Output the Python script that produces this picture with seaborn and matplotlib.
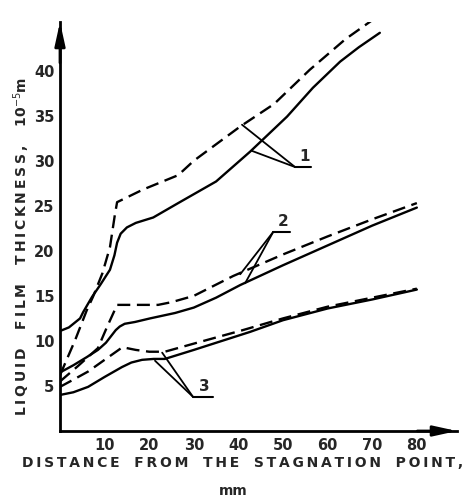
import matplotlib
matplotlib.use("Agg")
import matplotlib.pyplot as plt
import seaborn as sns
import pandas as pd

# ---- data ----
x_solid1 = [0, 2, 4.5, 5.2, 7.2, 9, 11.2, 12.2, 12.8, 13.6, 15, 17, 20.9, 26.5, 35, 42.6, 50.9, 56.7, 62.8, 67, 71.7]
y_solid1 = [11.1, 11.5, 12.5, 13.2, 14.9, 16.2, 17.9, 19.5, 20.9, 21.9, 22.6, 23.1, 23.7, 25.3, 27.7, 31, 34.9, 38.1, 41, 42.6, 44.2]

x_dash1 = [0, 3.4, 6, 7.4, 9.5, 11.2, 12.3, 12.8, 18.6, 26.5, 30, 40.4, 48, 56, 64, 71.7]
y_dash1 = [6.2, 10.1, 13.4, 14.9, 17.5, 20.4, 24, 25.4, 26.8, 28.4, 30, 33.8, 36.3, 40.1, 43.5, 46.2]

x_solid2 = [0, 3, 6, 8.5, 10.3, 12.5, 13.4, 14.5, 16.8, 20.2, 25.8, 30, 35, 40.4, 50, 60, 70, 80]
y_solid2 = [6.5, 7.3, 8.2, 9, 9.8, 11.2, 11.6, 11.9, 12.1, 12.5, 13.1, 13.7, 14.8, 16.2, 18.4, 20.6, 22.8, 24.8]

x_dash2 = [0, 4, 8.5, 10.5, 12.8, 17, 22, 25, 30, 38.8, 50, 60, 70, 80]
y_dash2 = [5.5, 7.2, 9.2, 11.5, 14, 14, 14, 14.3, 15.0, 17.2, 19.6, 21.6, 23.5, 25.3]

x_solid3 = [0, 3, 6.3, 10, 13.9, 16, 18.4, 21, 23.5, 30, 42.6, 50, 60, 70, 80]
y_solid3 = [4.0, 4.3, 4.9, 6.0, 7.1, 7.6, 7.9, 8.0, 8.0, 9.0, 11, 12.3, 13.6, 14.6, 15.7]

x_dash3 = [0, 3, 6.3, 10, 14, 17, 20, 23.5, 30, 41, 50, 60, 70, 80]
y_dash3 = [4.9, 5.7, 6.6, 7.9, 9.3, 9.0, 8.8, 8.8, 9.7, 11.2, 12.5, 13.8, 14.8, 15.8]

x_ticks = [10, 20, 30, 40, 50, 60, 70, 80]
y_ticks = [5, 10, 15, 20, 25, 30, 35, 40]

curve_labels = ["1", "2", "3"]
# leader lines: (label anchor, [targets])
lead_anchor = [(52.7, 29.3), (47.8, 22.1), (29.8, 3.8)]
lead_targets = [[(40.8, 34.0), (43.0, 31.1)],
                [(40.4, 17.4), (41.5, 16.4)],
                [(22.9, 8.7), (21.3, 7.8)]]
lead_underline_end = [56.2, 51.6, 34.2]

xlabel = "DISTANCE FROM THE STAGNATION POINT,"
xunit = "mm"
ylabel_words = ["LIQUID", "FILM", "THICKNESS,"]

# ---- figure ----
sns.set_style("white")
plt.rcParams['font.family'] = ['DejaVu Sans']

fig = plt.figure(figsize=(4.67, 5.0), dpi=100)
ax = fig.add_axes([60 / 467, 69 / 500, 397 / 467, 409 / 500])

dash_pat = (0, (5.5, 2.8))
for xs, ys, ls in [(x_solid1, y_solid1, '-'), (x_dash1, y_dash1, dash_pat),
                   (x_solid2, y_solid2, '-'), (x_dash2, y_dash2, dash_pat),
                   (x_solid3, y_solid3, '-'), (x_dash3, y_dash3, dash_pat)]:
    df = pd.DataFrame({"x": xs, "y": ys})
    sns.lineplot(data=df, x="x", y="y", ax=ax, color='black', lw=1.7,
                 linestyle=ls, sort=False, estimator=None,
                 solid_joinstyle='round', dash_joinstyle='round')

# leaders and numbers
for lab, (ax0, ay0), tg, uend in zip(curve_labels, lead_anchor, lead_targets, lead_underline_end):
    for (tx, ty) in tg:
        ax.plot([tx, ax0], [ty, ay0], color='black', lw=1.3)
    ax.plot([ax0, uend], [ay0, ay0], color='black', lw=1.5)
    ax.text((ax0 + uend) / 2 + 0.3, ay0 + 0.3, lab, ha='center', va='bottom',
            fontsize=11, fontweight='bold')

ax.set_xlim(0, 89)
ax.set_ylim(0, 45.4)
ax.set_xticks(x_ticks)
ax.set_yticks(y_ticks)
ax.set_xticklabels([str(v) for v in x_ticks], fontsize=10.5, fontweight='bold')
ax.set_yticklabels([str(v) for v in y_ticks], fontsize=10.5, fontweight='bold')
ax.tick_params(axis='x', direction='in', length=3, width=1.2, pad=5)
ax.tick_params(axis='y', direction='out', length=3, width=1.2, pad=1)
ax.set_xlabel("")
ax.set_ylabel("")
for s in ['top', 'right']:
    ax.spines[s].set_visible(False)
for s in ['left', 'bottom']:
    ax.spines[s].set_linewidth(2)
    ax.spines[s].set_color('black')

# axis arrows
ax.annotate('', xy=(1.0, 0), xytext=(0.9, 0), xycoords='axes fraction',
            arrowprops=dict(arrowstyle='-|>,head_length=1.0,head_width=0.22',
                            mutation_scale=14, color='black', lw=2, shrinkA=0, shrinkB=0))
ax.annotate('', xy=(0, 1.0), xytext=(0, 0.9), xycoords='axes fraction',
            arrowprops=dict(arrowstyle='-|>,head_length=1.0,head_width=0.22',
                            mutation_scale=14, color='black', lw=2, shrinkA=0, shrinkB=0))

def spaced(s):
    return "\u2009".join(list(s))

fig.text(243 / 467, 1 - 463 / 500, "   ".join(spaced(w) for w in xlabel.split(" ")),
         ha='center', va='center', fontsize=10, fontweight='bold')
fig.text(233 / 467, 1 - 491 / 500, xunit, ha='center', va='center', fontsize=10, fontweight='bold')

ylab = "    ".join(spaced(w) for w in ylabel_words) + "    10$^{-5}$m"
fig.text(22 / 467, 1 - 246 / 500, ylab, rotation=90, ha='center', va='center',
         fontsize=10, fontweight='bold')

fig.savefig("out.png", dpi=100)
